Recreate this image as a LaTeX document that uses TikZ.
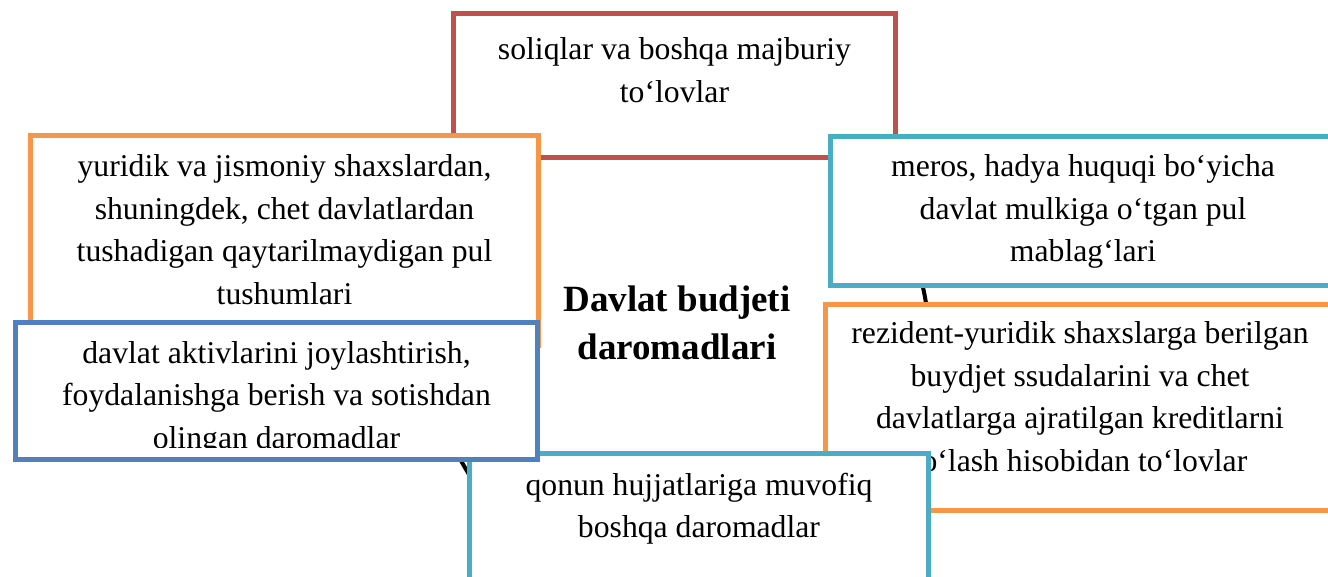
\documentclass[tikz,border=0pt]{standalone}
\usepackage{fontspec}
\setmainfont{Liberation Serif}
\definecolor{cred}{HTML}{C0504D}
\definecolor{corange}{HTML}{F79646}
\definecolor{cteal}{HTML}{4BACC6}
\definecolor{cblue}{HTML}{4F81BD}
\tikzset{
  box/.style={rectangle, draw, fill=white, line width=4.8pt, inner sep=0pt, outer sep=0pt},
  txt/.style={inner sep=0pt, anchor=base, font=\fontsize{31.7}{42.5}\selectfont},
  titletxt/.style={inner sep=0pt, anchor=base, font=\fontsize{37}{48}\selectfont\bfseries},
  ring/.style={circle, draw=black, fill=white, line width=4pt, inner sep=0pt, minimum size=498pt}
}
\newcommand{\lines}[1]{\begin{tabular}[t]{@{}c@{}}#1\end{tabular}}
\begin{document}
\begin{tikzpicture}[x=1pt,y=-1pt]
\useasboundingbox (0,0) rectangle (1328,577);
\clip (0,0) rectangle (1328,577);
% central circle (mostly hidden)
\node[ring] (ring) at (680,342) {};
% top red box
\node[box, draw=cred, minimum width=442pt, minimum height=144pt] (red) at (674.5,85.5) {};
\node[txt] (redtxt) at (674.5,60) {\lines{soliqlar va boshqa majburiy\\to‘lovlar}};
% left-top orange box
\node[box, draw=corange, minimum width=508pt, minimum height=210pt] (or1) at (284.5,240.5) {};
\node[txt] (or1txt) at (284.5,177) {\lines{yuridik va jismoniy shaxslardan,\\shuningdek, chet davlatlardan\\tushadigan qaytarilmaydigan pul\\tushumlari}};
% right-top teal box
\node[box, draw=cteal, minimum width=520pt, minimum height=149pt] (meros) at (1090.5,211) {};
\node[txt] (merostxt) at (1083,177) {\lines{meros, hadya huquqi bo‘yicha\\davlat mulkiga o‘tgan pul\\mablag‘lari}};
% right-bottom orange box
\node[box, draw=corange, minimum width=520pt, minimum height=206pt] (or2) at (1085.5,407.5) {};
\node[txt] (or2txt) at (1080,344) {\lines{rezident-yuridik shaxslarga berilgan\\buydjet ssudalarini va chet\\davlatlarga ajratilgan kreditlarni\\to‘lash hisobidan to‘lovlar}};
% bottom teal box
\node[box, draw=cteal, minimum width=459pt, minimum height=160pt] (teal) at (699,533.5) {};
\node[txt] (tealtxt) at (699,495) {\lines{qonun hujjatlariga muvofiq\\boshqa daromadlar}};
% left-bottom blue box
\node[box, draw=cblue, minimum width=522pt, minimum height=137pt] (blue) at (276.5,391) {};
\begin{scope}
\clip (18,325) rectangle (535,447);
\node[txt] (bluetxt) at (276.5,363) {\lines{davlat aktivlarini joylashtirish,\\foydalanishga berish va sotishdan\\olingan daromadlar}};
\end{scope}
% title
\node[titletxt] (title) at (677,312) {\lines{Davlat budjeti\\daromadlari}};
\end{tikzpicture}
\end{document}
